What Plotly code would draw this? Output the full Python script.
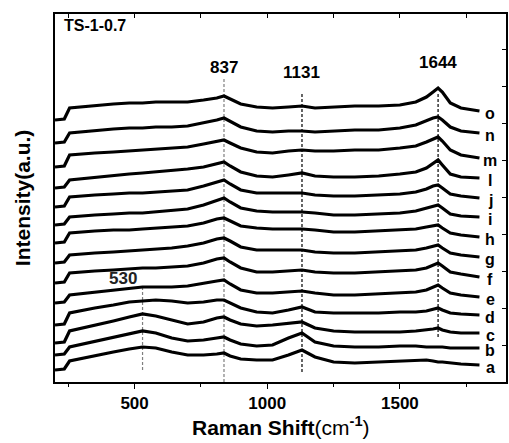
import plotly.graph_objects as go

# Raman shift grid (cm-1)
raman_shift = [200, 235, 255, 290, 350, 420, 480, 530, 580, 640, 700, 760, 810, 837, 860,
               900, 960, 1020, 1080, 1131, 1180, 1250, 1330, 1420, 1500, 1560, 1600, 1625,
               1644, 1660, 1690, 1730, 1800]

# Stacked intensities (a.u.)
spec_o = [262,263,274,275,276,278,279,279,280,280,280,282,284,286,283,278,275,274,275,276,274,275,276,276,277,280,285,290,294,290,279,274,271]
spec_n = [239,240,249,250,251,253,254,254,255,255,256,259,262,264,261,255,251,250,251,251,250,251,252,252,254,257,261,264,265,262,255,251,249]
spec_m = [215,216,227,228,229,230,231,232,233,234,235,238,241,242,239,234,230,229,231,232,231,231,232,232,234,236,240,243,245,241,232,227,224]
spec_l = [194,195,202,203,205,207,208,209,210,211,213,215,218,220,216,210,206,205,207,209,206,205,205,206,208,210,214,219,222,217,208,205,204]
spec_j = [175,176,185,186,187,188,189,189,190,191,192,196,200,202,198,192,189,189,189,189,187,186,186,187,188,190,193,196,197,194,188,186,184]
spec_i = [157,158,165,166,167,168,169,169,170,171,173,177,182,184,180,174,171,170,170,170,169,167,167,168,169,171,174,176,177,174,168,166,165]
spec_h = [139,140,149,150,151,152,152,153,154,155,156,159,163,164,161,156,154,153,153,153,152,150,150,151,152,153,155,156,157,154,149,147,145]
spec_g = [119,120,127,128,129,130,131,132,133,134,136,139,143,144,141,135,132,132,132,132,130,129,129,130,131,132,134,136,137,134,129,127,125]
spec_f = [99,100,109,110,111,112,113,114,114,115,116,119,123,124,120,114,110,110,111,112,110,109,109,110,111,112,114,117,119,116,110,108,105]
spec_e = [79,80,87,88,90,92,94,95,95,95,96,99,101,102,98,92,89,89,90,91,89,87,87,88,89,90,92,95,97,94,89,87,85]
spec_d = [57,58,69,71,74,77,80,81,82,81,79,80,82,82,79,74,70,69,72,75,70,69,69,69,70,70,71,73,74,72,69,68,67]
spec_c = [39,40,51,53,57,61,65,68,66,62,58,60,64,65,62,58,56,57,59,60,54,51,50,50,50,51,52,53,54,52,50,49,49]
spec_b = [27,28,35,37,40,44,48,51,49,44,41,42,44,45,42,38,36,37,44,49,40,36,35,35,36,36,35,35,35,35,34,34,34]
spec_a = [12,13,21,23,26,30,33,35,34,30,27,27,28,29,26,23,22,22,27,32,25,20,19,20,21,22,22,21,20,20,19,18,17]

sample_labels = ["a", "b", "c", "d", "e", "f", "g", "h", "i", "j", "l", "m", "n", "o"]
spectra = [spec_a, spec_b, spec_c, spec_d, spec_e, spec_f, spec_g, spec_h, spec_i,
           spec_j, spec_l, spec_m, spec_n, spec_o]

# Peak markers
peak_positions = [530, 837, 1131, 1644]
peak_line_bottom = [12, 0, 10, 45]
peak_line_top = [97, 305, 290, 290]
peak_label_height = [104, 315, 310, 320]
peak_line_colors = ["#7f7f7f", "#7f7f7f", "#000000", "#000000"]

sample_name = "TS-1-0.7"

FONT = "Liberation Sans, Arial, sans-serif"

fig = go.Figure()

for p, y0, y1, col in zip(peak_positions, peak_line_bottom, peak_line_top, peak_line_colors):
    fig.add_trace(go.Scatter(x=[p, p], y=[y0, y1], mode="lines",
                             line=dict(color=col, width=1.2, dash="3px,2px"),
                             showlegend=False, hoverinfo="skip"))

for lab, s in zip(sample_labels, spectra):
    fig.add_trace(go.Scatter(x=raman_shift, y=s, mode="lines",
                             line=dict(color="black", width=3.2),
                             name=lab, showlegend=False))

# overlay axes for inward ticks on top / right
fig.add_trace(go.Scatter(x=[200], y=[0], xaxis="x2", yaxis="y2", mode="markers",
                         marker=dict(size=1, opacity=0), showlegend=False,
                         hoverinfo="skip"))

annotations = []
for lab, s in zip(sample_labels, spectra):
    annotations.append(dict(x=1840, y=s[-1], text="<b>%s</b>" % lab, showarrow=False,
                            xanchor="center", yanchor="middle", yshift=-2,
                            font=dict(family=FONT, size=16, color="black")))
for i, (p, h) in enumerate(zip(peak_positions, peak_label_height)):
    if i == 0:
        annotations.append(dict(x=p, y=h, text="<b>%d</b>" % p, showarrow=False,
                                xanchor="right", yanchor="middle", xshift=-4,
                                font=dict(family=FONT, size=17, color="#222")))
    else:
        annotations.append(dict(x=p, y=h, text="<b>%d</b>" % p, showarrow=False,
                                xanchor="center", yanchor="middle",
                                font=dict(family=FONT, size=17, color="black")))
annotations.append(dict(x=0.015, y=0.97, xref="paper", yref="paper", text="<b>%s</b>" % sample_name,
                        showarrow=False, xanchor="left", yanchor="middle",
                        font=dict(family=FONT, size=16, color="black")))
annotations.append(dict(x=-33 / 453, y=0.5, xref="paper", yref="paper",
                        text="<b>Intensity(a.u.)</b>", textangle=-90, showarrow=False,
                        xanchor="center", yanchor="middle",
                        font=dict(family=FONT, size=21, color="black")))
annotations.append(dict(x=0.5, y=-44 / 368, xref="paper", yref="paper",
                        text="<b>Raman Shift</b>(cm<sup><b>-1</b></sup>)", showarrow=False,
                        xanchor="center", yanchor="middle",
                        font=dict(family=FONT, size=21, color="black")))

fig.update_layout(
    width=509, height=443,
    margin=dict(l=55, r=1, t=14, b=61),
    paper_bgcolor="white", plot_bgcolor="white",
    annotations=annotations,
    xaxis=dict(range=[200, 1900], tickmode="linear", tick0=0, dtick=500,
               ticks="outside", ticklen=5, tickwidth=1.2, tickcolor="black",
               minor=dict(tickmode="linear", tick0=0, dtick=250, ticks="outside",
                          ticklen=3, tickwidth=1.2, tickcolor="black"),
               showline=True, linecolor="black", linewidth=1.5, mirror=True,
               showgrid=False, zeroline=False,
               tickfont=dict(family=FONT, size=17, color="black"),
               tickprefix="<b>", ticksuffix="</b>"),
    xaxis2=dict(range=[200, 1900], overlaying="x", side="top", tickmode="linear",
                tick0=0, dtick=250, ticks="inside", ticklen=4, tickwidth=1.2,
                tickcolor="black", showticklabels=False, showgrid=False,
                zeroline=False, showline=False),
    yaxis=dict(range=[0, 368], showticklabels=False, ticks="", showgrid=False,
               zeroline=False, showline=True, linecolor="black", linewidth=1.5,
               mirror=True),
    yaxis2=dict(range=[0, 368], overlaying="y", side="right", tickmode="linear",
                tick0=37, dtick=37, ticks="inside", ticklen=4, tickwidth=1.2,
                tickcolor="black", showticklabels=False, showgrid=False,
                zeroline=False, showline=False),
)

fig.write_html("out.html")
